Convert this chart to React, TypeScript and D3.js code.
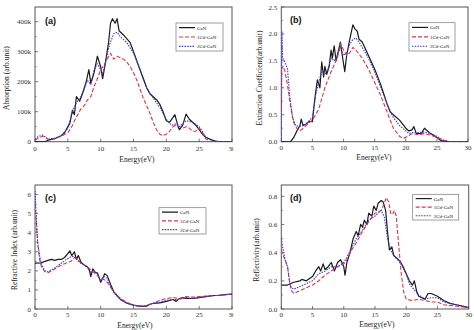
import React from "react";
import * as d3 from "d3";

type P = [number, number][];

const seriesNames = ["GaN", "1Cd-GaN", "2Cd-GaN"];
const xTicks = [0, 5, 10, 15, 20, 25, 30];

// (a) Absorption (k units)
const absGaN: P = [[0,0],[1.5,0],[2,5],[3,10],[4,20],[4.5,30],[5,50],[5.3,60],[5.7,105],[6,90],[6.3,150],[6.8,135],[7.3,165],[7.8,200],[8.2,240],[8.5,195],[9,230],[9.5,285],[10,250],[10.3,210],[10.7,260],[11.2,330],[11.5,395],[11.8,410],[12.2,395],[12.5,410],[12.8,370],[13.5,355],[14.5,330],[15,300],[15.5,270],[16,240],[16.5,210],[17,180],[17.5,160],[18,150],[18.5,140],[19,125],[19.5,100],[20,70],[20.5,65],[21,80],[21.3,90],[21.8,50],[22,40],[22.5,55],[23,92],[23.5,75],[24,65],[24.5,55],[25,40],[25.5,25],[26,15],[26.5,10],[27,5],[27.5,2],[28,0],[30,0]];
const abs1Cd: P = [[0,5],[0.5,12],[1.2,18],[2,8],[3,10],[4,18],[5,30],[5.5,45],[6,70],[6.5,90],[7,110],[7.5,120],[8,140],[8.5,150],[9,185],[9.5,210],[10,240],[10.5,255],[11,275],[11.5,295],[12,275],[12.5,285],[13,280],[13.5,275],[14,265],[14.5,250],[15,230],[15.5,205],[16,175],[16.5,145],[17,120],[17.5,95],[18,65],[18.5,40],[19,25],[19.5,20],[20,25],[20.5,35],[21,50],[21.5,55],[22,50],[22.5,45],[23,50],[23.5,45],[24,35],[24.5,35],[25,45],[25.5,30],[26,10],[26.5,3],[27,0],[30,0]];
const abs2Cd: P = [[0,8],[0.5,18],[1.2,22],[2,8],[3,12],[4,20],[5,45],[5.7,100],[6.3,130],[7,150],[8,205],[8.5,190],[9,240],[9.5,260],[10,240],[10.3,225],[10.8,270],[11.3,320],[12,360],[12.5,365],[13,350],[14,330],[15,295],[16,240],[17,180],[18,145],[19,115],[20,75],[20.5,60],[21,55],[21.5,60],[22,50],[22.5,60],[23,70],[24,65],[25,50],[25.5,35],[26,15],[27,5],[28,0],[30,0]];

// (b) Extinction coefficient
const extGaN: P = [[0,0],[1.5,0],[2,0.08],[2.5,0.2],[3,0.3],[3.2,0.42],[3.5,0.3],[4,0.33],[4.5,0.38],[5,0.37],[5.2,0.6],[5.5,0.9],[5.8,1.15],[6.2,1.0],[6.5,1.48],[6.8,1.2],[7,1.4],[7.3,1.25],[7.7,1.4],[8,1.7],[8.2,1.55],[8.5,1.78],[8.8,1.5],[9.2,1.7],[9.5,1.85],[9.8,1.6],[10.2,1.3],[10.5,1.6],[11,1.9],[11.5,2.17],[11.8,2.1],[12.2,2.05],[12.5,1.9],[13,1.85],[14,1.6],[15,1.35],[16,1.05],[17,0.7],[17.5,0.55],[18,0.5],[19,0.4],[20,0.25],[20.5,0.2],[21,0.22],[21.3,0.28],[21.7,0.15],[22.5,0.15],[23,0.25],[23.5,0.2],[24,0.15],[25,0.08],[25.5,0.03],[26,0.01],[27,0],[30,0]];
const ext1Cd: P = [[0,0],[0.05,1.35],[0.3,1.4],[0.6,1.3],[1,1.05],[1.5,0.65],[2,0.35],[2.5,0.25],[3,0.2],[3.5,0.25],[4,0.3],[5,0.4],[6,0.6],[7,1.0],[8,1.3],[9,1.55],[9.5,1.82],[10,1.7],[10.5,1.6],[11,1.65],[11.5,1.75],[12,1.7],[13,1.55],[14,1.35],[15,1.1],[16,0.85],[17,0.55],[18,0.25],[19,0.1],[19.5,0.06],[20,0.08],[21,0.15],[22,0.13],[23,0.15],[24,0.12],[25,0.08],[26,0.03],[27,0],[30,0]];
const ext2Cd: P = [[0,0],[0.1,2.05],[0.2,1.55],[0.5,1.5],[1,1.35],[1.3,0.9],[1.8,0.45],[2.3,0.3],[3,0.28],[3.5,0.3],[4,0.33],[5,0.45],[5.5,0.85],[6,1.1],[6.5,1.3],[7,1.25],[7.5,1.35],[8,1.55],[8.5,1.5],[9,1.6],[9.5,1.75],[10,1.6],[10.5,1.65],[11,1.8],[11.5,1.9],[12,1.92],[12.5,1.85],[13,1.75],[14,1.55],[15,1.3],[16,1.0],[17,0.7],[18,0.45],[19,0.3],[20,0.2],[20.5,0.15],[21,0.17],[22,0.17],[23,0.18],[24,0.15],[25,0.1],[26,0.03],[27,0],[30,0]];

// (c) Refractive index
const refGaN: P = [[0,2.4],[1,2.42],[1.5,2.5],[2,2.55],[2.5,2.6],[3,2.55],[3.5,2.6],[4,2.6],[4.5,2.7],[5,2.9],[5.3,3.05],[5.6,2.8],[6,3.0],[6.3,2.6],[6.6,2.8],[7,2.45],[7.5,2.3],[8,2.2],[8.3,2.0],[8.5,1.7],[8.8,2.1],[9.2,1.9],[9.5,1.9],[10,1.4],[10.3,1.6],[10.6,1.85],[11,1.75],[11.5,1.3],[12,0.9],[12.5,0.7],[13,0.5],[14,0.3],[15,0.2],[16,0.14],[17,0.15],[17.5,0.25],[18,0.3],[19,0.32],[20,0.4],[21,0.5],[21.5,0.4],[22,0.55],[22.5,0.6],[23,0.55],[24,0.55],[25,0.6],[26,0.65],[27,0.7],[28,0.72],[29,0.75],[30,0.78]];
const ref1Cd: P = [[0,5.5],[0.2,4.5],[0.4,3.5],[0.7,2.6],[1,2.2],[1.5,1.95],[2,1.9],[2.5,2.0],[3,2.1],[4,2.3],[5,2.45],[5.5,2.5],[6,2.7],[6.5,2.6],[7,2.4],[8,2.2],[9,1.9],[10,1.6],[10.5,1.55],[11,1.4],[12,0.9],[13,0.55],[14,0.35],[15,0.2],[16,0.15],[17,0.18],[18,0.3],[19,0.45],[20,0.55],[21,0.6],[22,0.55],[23,0.65],[24,0.62],[25,0.65],[26,0.68],[27,0.7],[28,0.72],[29,0.75],[30,0.78]];
const ref2Cd: P = [[0,6.2],[0.2,4.8],[0.4,3.5],[0.7,2.8],[1,2.3],[1.5,2.0],[2,1.95],[3,2.15],[4,2.4],[5,2.65],[5.5,2.75],[6,2.75],[6.5,2.55],[7,2.4],[8,2.2],[8.5,1.9],[9,2.0],[9.5,1.85],[10,1.5],[10.5,1.7],[11,1.6],[11.5,1.2],[12,0.85],[13,0.5],[14,0.3],[15,0.2],[16,0.15],[17,0.18],[18,0.3],[19,0.35],[20,0.45],[21,0.5],[22,0.5],[23,0.6],[24,0.55],[25,0.6],[26,0.65],[27,0.7],[28,0.72],[29,0.75],[30,0.78]];

// (d) Reflectivity
const rflGaN: P = [[0,0.17],[1,0.17],[2,0.19],[3,0.2],[3.3,0.21],[4,0.2],[5,0.23],[5.5,0.27],[6,0.3],[6.3,0.27],[6.7,0.32],[7,0.28],[7.5,0.3],[8,0.33],[8.5,0.27],[9,0.33],[9.5,0.35],[10,0.3],[10.2,0.24],[10.5,0.33],[11,0.4],[11.5,0.5],[12,0.55],[12.3,0.52],[12.7,0.6],[13,0.58],[13.3,0.63],[13.7,0.6],[14,0.68],[14.5,0.66],[14.8,0.73],[15.2,0.7],[15.5,0.75],[16,0.77],[16.3,0.76],[16.7,0.7],[17,0.55],[17.3,0.42],[17.7,0.44],[18,0.38],[18.5,0.36],[19,0.34],[19.5,0.3],[20,0.25],[20.5,0.2],[21,0.17],[21.3,0.2],[21.7,0.12],[22,0.09],[22.5,0.08],[23,0.07],[23.5,0.11],[24,0.11],[25,0.09],[26,0.06],[27,0.04],[28,0.03],[29,0.02],[30,0.01]];
const rfl1Cd: P = [[0,0.42],[0.3,0.38],[0.6,0.35],[1,0.3],[1.3,0.2],[1.6,0.13],[2,0.11],[2.5,0.12],[3,0.13],[4,0.15],[5,0.17],[6,0.2],[7,0.24],[8,0.27],[9,0.3],[10,0.32],[10.5,0.35],[11,0.4],[12,0.47],[13,0.55],[14,0.62],[15,0.68],[16,0.7],[16.5,0.75],[16.8,0.79],[17.2,0.76],[17.5,0.68],[17.8,0.67],[18.1,0.7],[18.4,0.66],[18.8,0.45],[19.2,0.25],[19.6,0.12],[20,0.07],[21,0.06],[22,0.07],[23,0.06],[24,0.05],[25,0.05],[26,0.03],[28,0.02],[30,0.01]];
const rfl2Cd: P = [[0,0.5],[0.3,0.42],[0.6,0.35],[1,0.3],[1.3,0.2],[1.6,0.15],[2,0.14],[3,0.16],[4,0.18],[5,0.2],[6,0.25],[7,0.27],[8,0.3],[9,0.3],[10,0.33],[10.5,0.37],[11,0.41],[12,0.5],[13,0.56],[14,0.63],[15,0.66],[15.5,0.68],[16,0.7],[16.5,0.65],[17,0.5],[17.5,0.42],[18,0.38],[19,0.33],[20,0.25],[20.5,0.18],[21,0.15],[22,0.1],[23,0.07],[24,0.08],[25,0.08],[26,0.05],[27,0.04],[28,0.03],[30,0.01]];

const absTicks = [0, 100, 200, 300, 400];
const extTicks = [0, 0.5, 1, 1.5, 2, 2.5];
const refTicks = [0, 1, 2, 3, 4, 5, 6];
const rflTicks = [0, 0.2, 0.4, 0.6, 0.8];

const colors = ["#1a1a1a", "#e8304a", "#3a3ad8"];
const dashes = ["", "4,2", "1.5,1.2"];
const widths = [1.2, 1.1, 1.1];
const SERIF = "'Liberation Serif', 'DejaVu Serif', serif";

interface PanelProps {
  id: string;
  clip: [number, number, number, number];
  left: number; right: number; top: number; bottom: number;
  yMax: number; yTicks: number[]; fmt: (v: number) => string;
  data: P[];
  label: string; labelPos: [number, number];
  yLabel: string; yLabelPos: [number, number];
  xTickDy: number;
  xLabelPos: [number, number];
  legend: [number, number, number, number];
}

function Panel(p: PanelProps) {
  const x = d3.scaleLinear().domain([0, 30]).range([p.left, p.right]);
  const y = d3.scaleLinear().domain([0, p.yMax]).range([p.bottom, p.top]);
  const line = d3.line<[number, number]>().x(d => x(d[0])).y(d => y(d[1]));
  const [lx0, ly0, lx1, ly1] = p.legend;
  const rowH = (ly1 - ly0) / 3;
  const minorY = p.yTicks.slice(0, -1).map((t, i) => (t + p.yTicks[i + 1]) / 2);
  return (
    <g clipPath={`url(#${p.id})`}>
      <defs>
        <clipPath id={p.id}>
          <rect x={p.clip[0]} y={p.clip[1]} width={p.clip[2]} height={p.clip[3]} />
        </clipPath>
        <clipPath id={p.id + "plot"}>
          <rect x={p.left} y={p.top} width={p.right - p.left} height={p.bottom - p.top} />
        </clipPath>
      </defs>
      <rect x={p.left} y={p.top} width={p.right - p.left} height={p.bottom - p.top} fill="white" stroke="#555" strokeWidth={1} />
      {p.yTicks.map(t => (
        <g key={"y" + t}>
          <line x1={p.left} x2={p.left + 3} y1={y(t)} y2={y(t)} stroke="#555" strokeWidth={0.8} />
          <text x={p.left - 4} y={y(t) + 2.5} fontSize={7} fontFamily={SERIF} textAnchor="end" fill="#333">{p.fmt(t)}</text>
        </g>
      ))}
      {minorY.map(t => (
        <line key={"my" + t} x1={p.left} x2={p.left + 1.8} y1={y(t)} y2={y(t)} stroke="#555" strokeWidth={0.6} />
      ))}
      {xTicks.map(t => (
        <g key={"x" + t}>
          <line x1={x(t)} x2={x(t)} y1={p.bottom} y2={p.bottom - 3} stroke="#555" strokeWidth={0.8} />
          <text x={x(t)} y={p.bottom + p.xTickDy} fontSize={7} fontFamily={SERIF} textAnchor="middle" fill="#333">{t}</text>
        </g>
      ))}
      <g clipPath={`url(#${p.id}plot)`}>
        {p.data.map((d, i) => (
          <path key={i} d={line(d) || ""} fill="none" stroke={colors[i]} strokeWidth={widths[i]} strokeDasharray={dashes[i]} strokeLinejoin="round" />
        ))}
      </g>
      <text x={p.labelPos[0]} y={p.labelPos[1]} fontSize={9} fontWeight="bold" fontFamily="'Liberation Sans', Arial, sans-serif" fill="#111">{p.label}</text>
      <text transform={`translate(${p.yLabelPos[0]},${p.yLabelPos[1]}) rotate(-90)`} fontSize={7.5} fontFamily={SERIF} textAnchor="middle" fill="#222">{p.yLabel}</text>
      <text x={p.xLabelPos[0]} y={p.xLabelPos[1]} fontSize={7.5} fontFamily={SERIF} textAnchor="middle" fill="#222">Energy(eV)</text>
      <rect x={lx0} y={ly0} width={lx1 - lx0} height={ly1 - ly0} fill="white" stroke="#777" strokeWidth={0.7} />
      {seriesNames.map((n, i) => {
        const yy = ly0 + rowH * (i + 0.5);
        return (
          <g key={n}>
            <line x1={lx0 + 3} x2={lx0 + 19} y1={yy} y2={yy} stroke={colors[i]} strokeWidth={widths[i]} strokeDasharray={dashes[i]} />
            <text x={lx0 + 21} y={yy + 2} fontSize={5} fontFamily={SERIF} fill="#222">{n}</text>
          </g>
        );
      })}
    </g>
  );
}

export default function App() {
  const kfmt = (v: number) => (v === 0 ? "0" : v + "k");
  const f1 = (v: number) => v.toFixed(1);
  const f0 = (v: number) => String(v);
  return (
    <svg width={474} height={330} style={{ position: "absolute", left: 0, top: 0, background: "white" }}>
      <rect width={474} height={330} fill="white" />
      <Panel id="pa" clip={[0, 0, 233.5, 165]} left={35} right={232} top={7} bottom={141.7} yMax={449}
        yTicks={absTicks} fmt={kfmt} data={[absGaN, abs1Cd, abs2Cd]} label="(a)" labelPos={[45, 24]}
        yLabel="Absorption (arb.unit)" yLabelPos={[9, 78]} xTickDy={9.5} xLabelPos={[137, 162]} legend={[176, 23, 223, 51]} />
      <Panel id="pb" clip={[237, 0, 237, 165]} left={281.3} right={468} top={7} bottom={141.7} yMax={2.5}
        yTicks={extTicks} fmt={f1} data={[extGaN, ext1Cd, ext2Cd]} label="(b)" labelPos={[290, 23]}
        yLabel="Extinction Coefficient(arb.unit)" yLabelPos={[262, 78]} xTickDy={8} xLabelPos={[374, 159.5]} legend={[409, 22.7, 455, 51]} />
      <Panel id="pc" clip={[0, 165, 233.5, 165]} left={35} right={232} top={185} bottom={309} yMax={6.5}
        yTicks={refTicks} fmt={f0} data={[refGaN, ref1Cd, ref2Cd]} label="(c)" labelPos={[45, 201]}
        yLabel="Refractive Index (arb.unit)" yLabelPos={[17, 250]} xTickDy={8} xLabelPos={[135, 327.5]} legend={[159, 207.7, 206, 234]} />
      <Panel id="pd" clip={[237, 165, 237, 165]} left={281.3} right={468.7} top={185} bottom={309} yMax={0.88}
        yTicks={rflTicks} fmt={f1} data={[rflGaN, rfl1Cd, rfl2Cd]} label="(d)" labelPos={[290, 201]}
        yLabel="Reflectivity(arb.unit)" yLabelPos={[259, 250]} xTickDy={8} xLabelPos={[377, 327]} legend={[412.7, 194.3, 458.7, 220]} />
    </svg>
  );
}
